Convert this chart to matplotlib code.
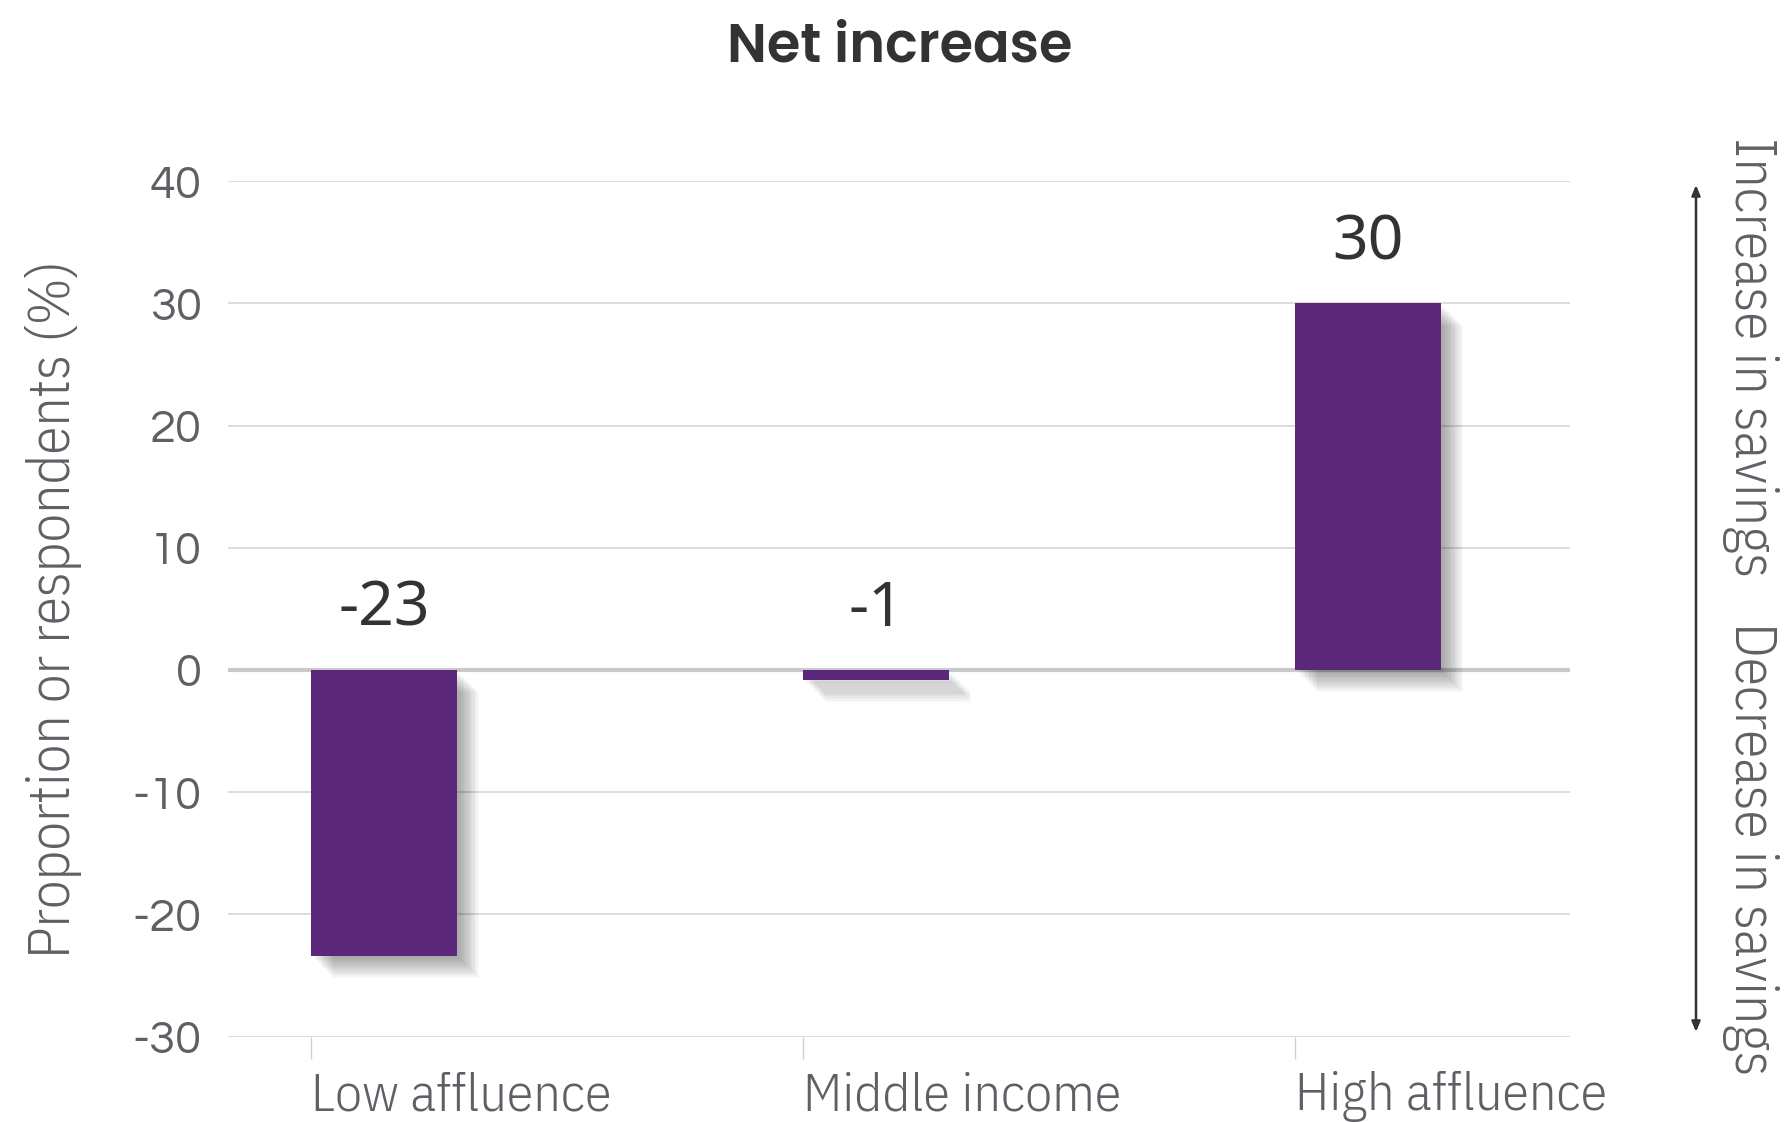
import numpy as np
import matplotlib.pyplot as plt
import matplotlib.patheffects as pe

plt.rcParams['axes.unicode_minus'] = False

categories = ['Low affluence', 'Middle income', 'High affluence']
net_increase = [-23.4, -0.8, 30.0]
y_ticks = [-30, -20, -10, 0, 10, 20, 30, 40]

purple = '#5a2779'
grey_text = '#5f5f66'
dark = '#333333'
cond = dict(family='IBM Plex Sans Condensed', fontweight=300)

fig = plt.figure(figsize=(17.88, 11.22), dpi=100)
ax = fig.add_axes([0.1275, 0.0762, 0.7505, 0.7622])

x = np.arange(len(categories))
w = 0.297

# soft drop shadow built from a few offset translucent copies
shadow = [pe.SimplePatchShadow(offset=(k, -k), shadow_rgbFace='black', alpha=0.025)
          for k in range(2, 17)]
ax.bar(x, net_increase, width=w, color=purple, zorder=3,
       path_effects=shadow + [pe.Normal()])

for xi, v in zip(x, net_increase):
    ax.annotate(f'{v:.0f}', (xi, max(v, 0)), xytext=(0, 32), textcoords='offset points',
                ha='center', va='baseline', fontsize=45, color=dark, family='Noto Sans')

ax.set_ylim(-30, 40)
ax.set_xlim(-0.317, 2.41)
ax.set_yticks(y_ticks)
ax.yaxis.grid(True, color='#dadada', lw=1.3)
ax.set_axisbelow(True)
ax.axhline(0, color='#c9c9c9', lw=3, zorder=2)
for s in ax.spines.values():
    s.set_visible(False)

ax.set_xticks(x - w / 2, categories)
ax.tick_params(axis='x', length=16, color='#d0d0d0', width=1, pad=9,
               labelsize=39, labelcolor=grey_text)
for lbl in ax.get_xticklabels():
    lbl.set_ha('left')
    lbl.set(**cond)
ax.tick_params(axis='y', length=0, pad=19, labelsize=34, labelcolor=grey_text)
for lbl in ax.get_yticklabels():
    lbl.set_family(['Questrial', 'Didact Gothic', 'Lato'])

fig.text(0.5034, 1 - 48 / 1122, 'Net increase', ha='center', va='center',
         fontsize=39, fontweight=600, family=['Poppins', 'Lato'], color=dark)
fig.text(54 / 1788, 0.457, 'Proportion or respondents (%)', rotation=90,
         ha='center', va='center', fontsize=41.5, color=grey_text, **cond)

fig.text(1750 / 1788, 0.682, 'Increase in savings', rotation=270,
         ha='center', va='center', fontsize=41.5, color=grey_text, **cond)
fig.text(1750 / 1788, 0.2438, 'Decrease in savings', rotation=270,
         ha='center', va='center', fontsize=41.5, color=grey_text, **cond)
ax.annotate('', xy=(1696 / 1788, 1 - 185 / 1122), xytext=(1696 / 1788, 1 - 1032 / 1122),
            xycoords='figure fraction', textcoords='figure fraction',
            arrowprops=dict(arrowstyle='<|-|>,head_length=0.6,head_width=0.25',
                            color=dark, lw=1.8, shrinkA=0, shrinkB=0))

fig.savefig('out.png', dpi=100)
